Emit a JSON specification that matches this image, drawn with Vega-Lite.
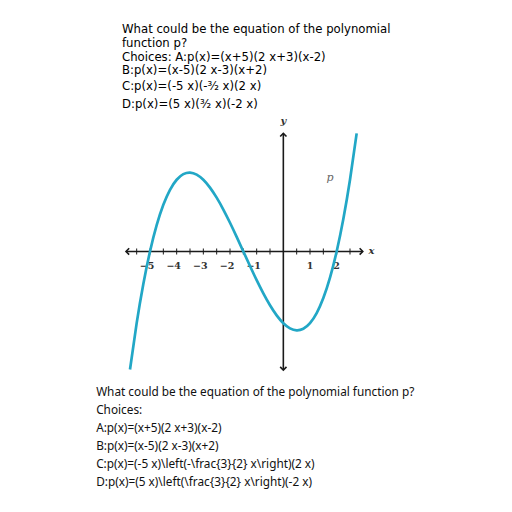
{
  "$schema": "https://vega.github.io/schema/vega-lite/v6.json",
  "width": 512,
  "height": 512,
  "padding": 0,
  "autosize": {"type": "none"},
  "background": "white",
  "config": {"view": {"stroke": null}},
  "data": {"values": [{}]},
  "datasets": {
    "curve": [
      {"x": -5.75, "y": -49.406}, {"x": -5.5, "y": -30.0}, {"x": -5.25, "y": -13.594}, {"x": -5.0, "y": 0.0},
      {"x": -4.75, "y": 10.969}, {"x": -4.5, "y": 19.5}, {"x": -4.25, "y": 25.781}, {"x": -4.0, "y": 30.0},
      {"x": -3.75, "y": 32.344}, {"x": -3.5, "y": 33.0}, {"x": -3.25, "y": 32.156}, {"x": -3.0, "y": 30.0},
      {"x": -2.75, "y": 26.719}, {"x": -2.5, "y": 22.5}, {"x": -2.25, "y": 17.531}, {"x": -2.0, "y": 12.0},
      {"x": -1.75, "y": 6.094}, {"x": -1.5, "y": 0.0}, {"x": -1.25, "y": -6.094}, {"x": -1.0, "y": -12.0},
      {"x": -0.75, "y": -17.531}, {"x": -0.5, "y": -22.5}, {"x": -0.25, "y": -26.719}, {"x": 0.0, "y": -30.0},
      {"x": 0.25, "y": -32.156}, {"x": 0.5, "y": -33.0}, {"x": 0.75, "y": -32.344}, {"x": 1.0, "y": -30.0},
      {"x": 1.25, "y": -25.781}, {"x": 1.5, "y": -19.5}, {"x": 1.75, "y": -10.969}, {"x": 2.0, "y": 0.0},
      {"x": 2.25, "y": 13.594}, {"x": 2.5, "y": 30.0}, {"x": 2.75, "y": 49.406}
    ],
    "ticks": [
      {"x": -5.5}, {"x": -5}, {"x": -4.5}, {"x": -4}, {"x": -3.5}, {"x": -3}, {"x": -2.5}, {"x": -2},
      {"x": -1.5}, {"x": -1}, {"x": -0.5}, {"x": 0.5}, {"x": 1}, {"x": 1.5}, {"x": 2}, {"x": 2.5}
    ],
    "neglabels": [
      {"x": -5, "t": "−5"}, {"x": -4, "t": "−4"}, {"x": -3, "t": "−3"}, {"x": -2, "t": "−2"}, {"x": -1, "t": "−1"}
    ],
    "poslabels": [
      {"x": 1, "t": "1"}, {"x": 2, "t": "2"}
    ]
  },
  "encoding": {
    "x": {"type": "quantitative", "scale": {"domain": [-10.625, 8.575], "nice": false, "zero": false}, "axis": null},
    "y": {"type": "quantitative", "scale": {"domain": [-109, 105.2], "nice": false, "zero": false}, "axis": null}
  },
  "layer": [
    {
      "mark": {"type": "rule", "stroke": "#1a1a1a", "strokeWidth": 1.6},
      "encoding": {"x": {"datum": -5.9}, "x2": {"datum": 2.98}, "y": {"datum": 0}}
    },
    {
      "mark": {"type": "rule", "stroke": "#1a1a1a", "strokeWidth": 1.6},
      "encoding": {"x": {"datum": 0}, "y": {"datum": -49.6}, "y2": {"datum": 49.4}}
    },
    {
      "data": {"name": "ticks"},
      "mark": {"type": "tick", "orient": "vertical", "size": 6, "thickness": 1, "color": "#1a1a1a", "opacity": 1},
      "encoding": {"x": {"field": "x", "type": "quantitative"}, "y": {"datum": 0}}
    },
    {
      "mark": {"type": "point", "shape": "M-1,-1L0,0L-1,1", "filled": false, "stroke": "#1a1a1a", "strokeWidth": 1.6, "size": 40, "opacity": 1},
      "encoding": {"x": {"datum": 2.98}, "y": {"datum": 0}}
    },
    {
      "mark": {"type": "point", "shape": "M1,-1L0,0L1,1", "filled": false, "stroke": "#1a1a1a", "strokeWidth": 1.6, "size": 40, "opacity": 1},
      "encoding": {"x": {"datum": -5.9}, "y": {"datum": 0}}
    },
    {
      "mark": {"type": "point", "shape": "M-1,1L0,0L1,1", "filled": false, "stroke": "#1a1a1a", "strokeWidth": 1.6, "size": 40, "opacity": 1},
      "encoding": {"x": {"datum": 0}, "y": {"datum": 49.4}}
    },
    {
      "mark": {"type": "point", "shape": "M-1,-1L0,0L1,-1", "filled": false, "stroke": "#1a1a1a", "strokeWidth": 1.6, "size": 40, "opacity": 1},
      "encoding": {"x": {"datum": 0}, "y": {"datum": -49.6}}
    },
    {
      "data": {"name": "neglabels"},
      "mark": {"type": "text", "font": "DejaVu Serif", "fontSize": 9.5, "fontWeight": "bold", "color": "#333", "align": "center", "baseline": "middle", "dx": -3},
      "encoding": {"x": {"field": "x", "type": "quantitative"}, "y": {"datum": -6.1}, "text": {"field": "t"}}
    },
    {
      "data": {"name": "poslabels"},
      "mark": {"type": "text", "font": "DejaVu Serif", "fontSize": 9.5, "fontWeight": "bold", "color": "#333", "align": "center", "baseline": "middle"},
      "encoding": {"x": {"field": "x", "type": "quantitative"}, "y": {"datum": -6.1}, "text": {"field": "t"}}
    },
    {
      "data": {"name": "curve"},
      "mark": {"type": "line", "color": "#22a7c6", "strokeWidth": 2.7, "interpolate": "natural"},
      "encoding": {"x": {"field": "x", "type": "quantitative"}, "y": {"field": "y", "type": "quantitative"}}
    },
    {
      "mark": {"type": "text", "font": "DejaVu Serif", "fontStyle": "italic", "fontWeight": "bold", "fontSize": 10, "color": "#333", "align": "center", "baseline": "middle"},
      "encoding": {"x": {"datum": 0}, "y": {"datum": 54.4}, "text": {"value": "y"}}
    },
    {
      "mark": {"type": "text", "font": "DejaVu Serif", "fontStyle": "italic", "fontWeight": "bold", "fontSize": 10, "color": "#333", "align": "center", "baseline": "middle"},
      "encoding": {"x": {"datum": 3.31}, "y": {"datum": 0.2}, "text": {"value": "x"}}
    },
    {
      "mark": {"type": "text", "font": "DejaVu Serif", "fontStyle": "italic", "fontSize": 11, "color": "#666", "align": "center", "baseline": "middle"},
      "encoding": {"x": {"datum": 1.75}, "y": {"datum": 30.75}, "text": {"value": "p"}}
    },
    {
      "mark": {"type": "text", "font": "DejaVu Sans", "fontSize": 11.7, "color": "#000", "align": "left", "baseline": "middle", "lineHeight": 13.7},
      "encoding": {"x": {"datum": -6.05}, "y": {"datum": 93.0}, "text": {"value": ["What could be the equation of the polynomial", "function p?", "Choices: A:p(x)=(x+5)(2 x+3)(x-2)", "B:p(x)=(x-5)(2 x-3)(x+2)"]}}
    },
    {
      "mark": {"type": "text", "font": "DejaVu Sans", "fontSize": 11.7, "color": "#000", "align": "left", "baseline": "middle"},
      "encoding": {"x": {"datum": -6.05}, "y": {"datum": 69.25}, "text": {"value": "C:p(x)=(-5 x)(-³⁄₂ x)(2 x)"}}
    },
    {
      "mark": {"type": "text", "font": "DejaVu Sans", "fontSize": 11.7, "color": "#000", "align": "left", "baseline": "middle"},
      "encoding": {"x": {"datum": -6.05}, "y": {"datum": 61.7}, "text": {"value": "D:p(x)=(5 x)(³⁄₂ x)(-2 x)"}}
    },
    {
      "mark": {"type": "text", "font": "Noto Sans", "fontSize": 11.8, "color": "#111", "align": "left", "baseline": "middle", "lineHeight": 18},
      "encoding": {"x": {"datum": -7.02}, "y": {"datum": -58.8}, "text": {"value": ["What could be the equation of the polynomial function p?", "Choices:", "A:p(x)=(x+5)(2 x+3)(x-2)", "B:p(x)=(x-5)(2 x-3)(x+2)", "C:p(x)=(-5 x)\\left(-\\frac{3}{2} x\\right)(2 x)", "D:p(x)=(5 x)\\left(\\frac{3}{2} x\\right)(-2 x)"]}}
    }
  ]
}
